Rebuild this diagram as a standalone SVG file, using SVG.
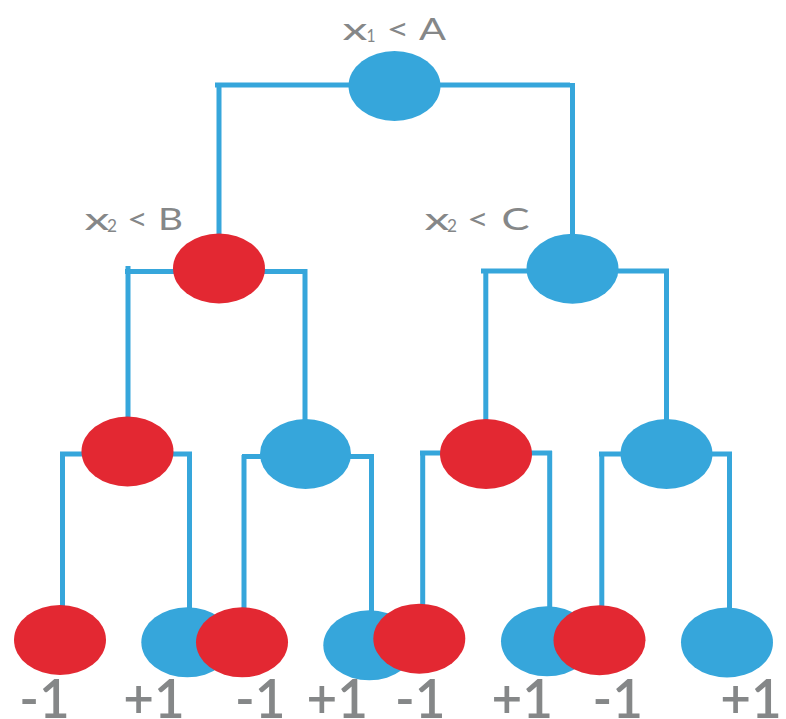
<svg xmlns="http://www.w3.org/2000/svg" width="786" height="719" viewBox="0 0 786 719">
  <style>
    .blue { fill: #36A6DB; }
    .red { fill: #E32832; }
    .conn { stroke: #36A6DB; stroke-width: 5; fill: none; stroke-linecap: butt; }
    .cond { font-family: Lato, "Liberation Sans", sans-serif; font-size: 31px; fill: #858788; }
    .sub { font-size: 18px; }
    .leaf { font-family: Lato, "Liberation Sans", sans-serif; font-size: 53px; fill: #858788; font-weight: 600; text-anchor: middle; }
  </style>
  <rect width="786" height="719" fill="#ffffff"/>
  <g id="connectors" class="conn">
    <path d="M215 85 H570 M219 83 V235 M572.5 83 V235"/>
    <path d="M125 271.5 H307.5 M128 266 V418 M305 271 V421"/>
    <path d="M481 271 H669 M485.8 269 V421 M666.5 271 V421"/>
    <path d="M60 454 H192 M62.5 452 V608 M189.5 452 V610"/>
    <path d="M242 456.5 H374 M244 455 V610 M371.5 456 V612"/>
    <path d="M420 453 H552 M422.7 451 V606 M549.7 451 V608"/>
    <path d="M599 454 H732 M601.8 452 V608 M729.5 452 V609"/>
  </g>
  <g id="root">
    <ellipse class="blue" cx="394.5" cy="86" rx="46" ry="35"/>
    <text class="cond"><tspan x="342.5" y="39.5" textLength="25" lengthAdjust="spacingAndGlyphs">x</tspan><tspan class="sub" x="366.5" y="42" textLength="9" lengthAdjust="spacingAndGlyphs">1</tspan><tspan x="386.5" y="39.5" textLength="23" lengthAdjust="spacingAndGlyphs">&lt;</tspan><tspan x="419" y="39.5" textLength="27" lengthAdjust="spacingAndGlyphs">A</tspan></text>
  </g>
  <g id="nodeB">
    <ellipse class="red" cx="219" cy="268.5" rx="46" ry="35"/>
    <text class="cond"><tspan x="84.5" y="229.5" textLength="25" lengthAdjust="spacingAndGlyphs">x</tspan><tspan class="sub" x="107" y="232" textLength="10" lengthAdjust="spacingAndGlyphs">2</tspan><tspan x="127" y="229.5" textLength="21" lengthAdjust="spacingAndGlyphs">&lt;</tspan><tspan x="158" y="229.5" textLength="25" lengthAdjust="spacingAndGlyphs">B</tspan></text>
  </g>
  <g id="nodeC">
    <ellipse class="blue" cx="572.5" cy="268.7" rx="46" ry="35"/>
    <text class="cond"><tspan x="424.5" y="229.5" textLength="25" lengthAdjust="spacingAndGlyphs">x</tspan><tspan class="sub" x="447" y="232" textLength="10" lengthAdjust="spacingAndGlyphs">2</tspan><tspan x="467" y="229.5" textLength="22" lengthAdjust="spacingAndGlyphs">&lt;</tspan><tspan x="501.5" y="229.5" textLength="28" lengthAdjust="spacingAndGlyphs">C</tspan></text>
  </g>
  <g id="nodeLL"><ellipse class="red" cx="127.5" cy="451.5" rx="46" ry="35"/></g>
  <g id="nodeLR"><ellipse class="blue" cx="305.5" cy="454" rx="45.5" ry="35"/></g>
  <g id="nodeRL"><ellipse class="red" cx="486" cy="454" rx="46" ry="35"/></g>
  <g id="nodeRR"><ellipse class="blue" cx="666.5" cy="454" rx="46" ry="35"/></g>
  <g id="leaf1"><ellipse class="red" cx="60" cy="640" rx="46" ry="35"/><text class="leaf" x="44.5" y="718">-1</text></g>
  <g id="leaf2"><ellipse class="blue" cx="187.3" cy="642.3" rx="46" ry="35"/><text class="leaf" x="154" y="718">+1</text></g>
  <g id="leaf3"><ellipse class="red" cx="242" cy="642.3" rx="46" ry="35"/><text class="leaf" x="260.3" y="718">-1</text></g>
  <g id="leaf4"><ellipse class="blue" cx="369.3" cy="645.3" rx="46" ry="35"/><text class="leaf" x="337.3" y="718">+1</text></g>
  <g id="leaf5"><ellipse class="red" cx="419.3" cy="638.7" rx="46" ry="35"/><text class="leaf" x="420.2" y="718">-1</text></g>
  <g id="leaf6"><ellipse class="blue" cx="547" cy="641.3" rx="46" ry="35"/><text class="leaf" x="522.3" y="718">+1</text></g>
  <g id="leaf7"><ellipse class="red" cx="599.5" cy="640.2" rx="46" ry="35"/><text class="leaf" x="617.7" y="718">-1</text></g>
  <g id="leaf8"><ellipse class="blue" cx="727" cy="642.5" rx="46" ry="35"/><text class="leaf" x="751" y="718">+1</text></g>
</svg>
